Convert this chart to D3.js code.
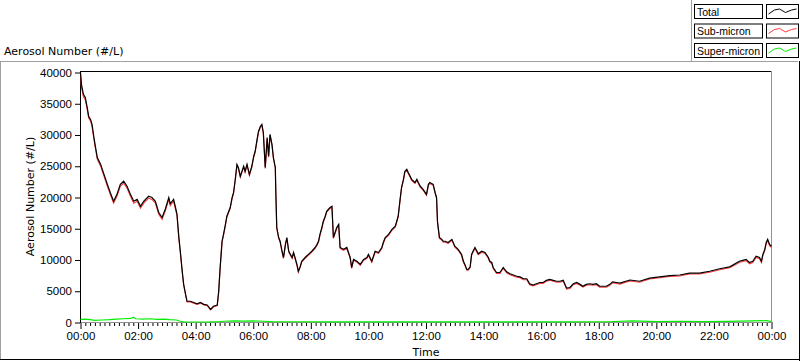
<!DOCTYPE html>
<html><head><meta charset="utf-8">
<script src="https://cdn.jsdelivr.net/npm/d3@7"></script>
<style>
html,body{margin:0;padding:0;background:#fff;}
svg{display:block;}
text{fill:#000;}
</style></head>
<body>
<svg id="chart" width="800" height="361"></svg>
<script>
// ---- data (time in minutes since 00:00) ----
const minutes = [
 0,2,6,10,14,17,21,24,28,31,
 35,42,49,56,62,69,76,83,90,97,
 104,111,118,125,132,142,149,156,163,170,
 177,184,187,194,198,201,205,208,212,215,
 219,222,229,236,243,250,257,264,271,277,
 285,288,291,295,298,302,305,312,316,319,
 323,326,329,333,340,343,347,352,357,361,
 364,368,371,375,378,381,385,389,392,395,
 399,402,406,407,409,413,416,420,423,427,
 430,434,441,444,447,451,454,458,461,468,
 475,482,489,493,496,499,503,506,510,513,
 520,524,527,534,538,541,548,555,562,565,
 569,576,583,590,597,600,607,614,621,628,
 631,635,642,649,656,659,662,666,669,673,
 676,680,683,687,690,697,701,704,708,714,
 721,725,728,735,739,742,744,748,753,756,
 760,766,774,780,787,794,798,801,805,808,
 812,815,818,822,829,836,843,850,853,857,
 860,867,874,881,888,895,902,909,916,923,
 930,936,943,950,957,964,971,978,985,992,
 999,1006,1013,1020,1027,1034,1041,1047,1054,1061,
 1068,1075,1082,1089,1096,1103,1109,1117,1124,1145,
 1165,1186,1207,1228,1249,1269,1290,1311,1332,1353,
 1373,1380,1387,1394,1401,1408,1415,1419,1422,1426,
 1429,1432,1436,1440
];
const total = [
 40000,38100,36500,36000,34400,33000,32500,31700,29600,28200,
 26400,25300,23700,22100,20800,19400,20500,22100,22600,21800,
 20500,19400,19700,18600,19400,20200,20000,19400,17600,16800,
 18200,20000,19000,19700,18400,17400,13600,11400,8200,6100,
 4500,3400,3400,3200,3000,3200,2900,2800,2100,2600,
 2800,5000,8800,13000,14100,15700,17000,18400,20000,20800,
 23200,25300,24800,23400,25000,24200,25300,23700,25000,26600,
 27400,29300,30600,31400,31700,30400,24800,29600,26600,30100,
 28500,26400,24800,21000,15200,13600,13000,11400,10400,12500,
 13600,11400,10400,11200,10400,9300,8200,9000,9800,10400,
 10900,11400,12000,12500,13000,14100,15200,16200,17000,17800,
 18400,18600,13600,15200,15700,12000,11700,12000,10400,8800,
 10100,9800,9300,10100,10400,10900,9800,11400,11200,12000,
 12800,13600,14100,14900,15400,16200,17000,19700,21600,22900,
 24200,24500,24000,23400,22900,22400,22900,22400,21800,21300,
 20500,22100,22400,22100,20800,20000,16100,13600,13300,13000,
 13000,12800,13300,12200,11700,10900,9800,9300,8500,8500,
 8900,10900,11400,12000,11000,11400,11200,10400,9800,9600,
 8800,8000,8000,8800,8100,7800,7600,7400,7300,7000,
 7000,6200,6000,6200,6400,6400,6750,6900,6750,6600,
 6600,6750,5500,5600,6200,6400,6100,5800,6100,6200,
 6100,6200,5800,5800,5800,6100,6500,6400,6300,6800,
 6600,7100,7300,7500,7600,7900,7900,8200,8600,8900,
 9800,9950,10100,9600,9800,10600,10400,9800,10900,11700,
 12800,13300,12500,12200
];
const subMicron = [
 39600,37700,36100,35600,34100,32700,32200,31400,29300,27900,
 26100,25000,23400,21800,20500,19100,20200,21800,22300,21500,
 20200,19100,19400,18300,19100,19900,19700,19100,17300,16500,
 17900,19700,18700,19400,18100,17100,13300,11200,8050,6000,
 4400,3300,3300,3100,2900,3100,2800,2700,2000,2500,
 2700,4850,8650,12850,13950,15550,16850,18250,19850,20650,
 23050,25150,24650,23250,24850,24050,25150,23550,24850,26450,
 27250,29150,30450,31250,31550,30250,24650,29450,26450,29950,
 28350,26250,24650,20850,15050,13450,12850,11250,10250,12350,
 13450,11250,10250,11050,10250,9150,8050,8850,9650,10250,
 10750,11250,11850,12350,12850,13950,15050,16050,16850,17650,
 18250,18450,13450,15050,15550,11850,11550,11850,10250,8650,
 9950,9650,9150,9950,10250,10750,9650,11250,11050,11850,
 12650,13450,13950,14750,15250,16050,16850,19550,21450,22750,
 24050,24350,23850,23250,22750,22250,22750,22250,21650,21150,
 20350,21950,22250,21950,20650,19850,15950,13450,13150,12850,
 12850,12650,13150,12050,11550,10750,9650,9150,8350,8350,
 8750,10750,11250,11850,10850,11250,11050,10250,9650,9450,
 8650,7850,7850,8650,7950,7650,7450,7250,7150,6850,
 6850,6050,5850,6050,6250,6250,6600,6750,6600,6450,
 6450,6600,5350,5450,6050,6250,5950,5650,5950,6050,
 5950,6050,5650,5650,5650,5950,6350,6250,6150,6650,
 6450,6950,7150,7350,7450,7750,7750,8050,8450,8750,
 9600,9750,9900,9400,9600,10400,10200,9600,10700,11500,
 12600,13100,12300,12000
];
const superMinutes = [0,10,20,30,45,60,75,90,105,110,115,130,145,160,175,185,200,208,215,240,270,290,300,320,340,360,380,400,450,500,600,700,800,900,1000,1100,1150,1200,1250,1300,1350,1400,1430,1440];
const superMicron = [500,550,450,350,400,450,550,600,650,850,600,550,600,500,550,450,400,200,100,80,100,150,200,250,220,250,200,150,120,100,100,90,100,110,100,120,250,150,200,150,180,250,300,150];

const yTickValues = [0,5000,10000,15000,20000,25000,30000,35000,40000];
const yTickLabels = ["0","5000","10000","15000","20000","25000","30000","35000","40000"];
const xTickValues = [0,120,240,360,480,600,720,840,960,1080,1200,1320,1440];
const xTickLabels = ["00:00","02:00","04:00","06:00","08:00","10:00","12:00","14:00","16:00","18:00","20:00","22:00","00:00"];
const seriesNames = ["Total","Sub-micron","Super-micron"];
const seriesColors = ["#000000","#ff3b3b","#00ee00"];

// ---- drawing ----
const svg = d3.select("#chart");
const L = 80, R = 772, T = 71, B = 322;
const x = d3.scaleLinear().domain([0,1440]).range([L+0.5, R-0.5]);
const y = d3.scaleLinear().domain([0,40000]).range([B+0.5, T+1.5]);
const numFont = "'Liberation Sans', Arial, sans-serif";
const txtFont = "'DejaVu Sans', sans-serif";

// outer panel bevel
svg.append("line").attr("x1",0).attr("x2",798).attr("y1",61.5).attr("y2",61.5).attr("stroke","#a0a0a0");
svg.append("line").attr("x1",0.5).attr("x2",0.5).attr("y1",61).attr("y2",360).attr("stroke","#a0a0a0");
svg.append("line").attr("x1",799.5).attr("x2",799.5).attr("y1",61).attr("y2",361).attr("stroke","#000");
svg.append("line").attr("x1",0).attr("x2",800).attr("y1",359.5).attr("y2",359.5).attr("stroke","#000");
svg.append("line").attr("x1",691.5).attr("x2",691.5).attr("y1",0).attr("y2",61).attr("stroke","#a0a0a0");

// title above plot
svg.append("text").attr("x",4).attr("y",55).style("font-family",txtFont).style("font-size","11px").text("Aerosol Number (#/L)");

// y axis
const yAxis = svg.append("g").attr("transform",`translate(${L},0)`)
  .call(d3.axisLeft(y).tickValues(yTickValues).tickSize(5).tickPadding(3)
    .tickFormat((d,i)=>yTickLabels[i]));
yAxis.select(".domain").remove();
yAxis.selectAll("text").style("font-family",numFont).style("font-size","11.5px").attr("fill","#000");
yAxis.selectAll("line").attr("stroke","#000");

// x axis minor ticks
const minorVals = d3.range(0,1441,10).filter(v=>v%120!==0);
const xMinor = svg.append("g").attr("transform",`translate(0,${B})`)
  .call(d3.axisBottom(x).tickValues(minorVals).tickSize(4).tickFormat(""));
xMinor.select(".domain").remove();
xMinor.selectAll("line").attr("stroke","#000");
const xAxis = svg.append("g").attr("transform",`translate(0,${B})`)
  .call(d3.axisBottom(x).tickValues(xTickValues).tickSize(7).tickPadding(3)
    .tickFormat((d,i)=>xTickLabels[i]));
xAxis.select(".domain").remove();
xAxis.selectAll("line").attr("stroke","#000");
xAxis.selectAll("text").style("font-family",numFont).style("font-size","11.5px").attr("fill","#000");

// axis titles
svg.append("text").attr("x",(L+R)/2).attr("y",356).attr("text-anchor","middle")
  .style("font-family",txtFont).style("font-size","11px").text("Time");
svg.append("text").attr("transform",`translate(34,${(T+B)/2}) rotate(-90)`).attr("text-anchor","middle")
  .style("font-family",txtFont).style("font-size","11px").text("Aerosol Number (#/L)");

// plot frame
svg.append("line").attr("x1",L).attr("x2",R).attr("y1",T+0.5).attr("y2",T+0.5).attr("stroke","#000");
svg.append("line").attr("x1",L+0.5).attr("x2",L+0.5).attr("y1",T).attr("y2",B+1).attr("stroke","#000");
svg.append("line").attr("x1",R-0.5).attr("x2",R-0.5).attr("y1",T).attr("y2",B+1).attr("stroke","#909090");
svg.append("line").attr("x1",L+1).attr("x2",R).attr("y1",B+0.5).attr("y2",B+0.5).attr("stroke","#909090");

// series
const line = d3.line().x(d=>x(d[0])).y(d=>y(d[1]));
svg.append("path").datum(d3.zip(minutes,subMicron)).attr("d",line)
  .attr("fill","none").attr("stroke",seriesColors[1]).attr("stroke-width",1.1);
svg.append("path").datum(d3.zip(minutes,total)).attr("d",line)
  .attr("fill","none").attr("stroke",seriesColors[0]).attr("stroke-width",1.2);
svg.append("path").datum(d3.zip(superMinutes,superMicron)).attr("d",line)
  .attr("fill","none").attr("stroke",seriesColors[2]).attr("stroke-width",1.2);

// legend
const rowTops = [4,23.5,43];
const sample = [[2,10],[8,6],[13,5],[19,8.5],[25,6],[30,5]];
seriesNames.forEach((name,i)=>{
  const g = svg.append("g").attr("transform",`translate(0,${rowTops[i]})`);
  g.append("rect").attr("x",694.5).attr("y",0.5).attr("width",68).attr("height",14)
    .attr("fill","#fff").attr("stroke","#000");
  g.append("text").attr("x",697).attr("y",11.5).style("font-family",numFont).style("font-size","10.5px").text(name);
  g.append("rect").attr("x",766.5).attr("y",0.5).attr("width",32).attr("height",14)
    .attr("fill","#fff").attr("stroke","#000");
  g.append("path").attr("d",d3.line()(sample.map(p=>[766.5+p[0],p[1]])))
    .attr("fill","none").attr("stroke",seriesColors[i]).attr("stroke-width",1);
});
</script>
</body></html>
